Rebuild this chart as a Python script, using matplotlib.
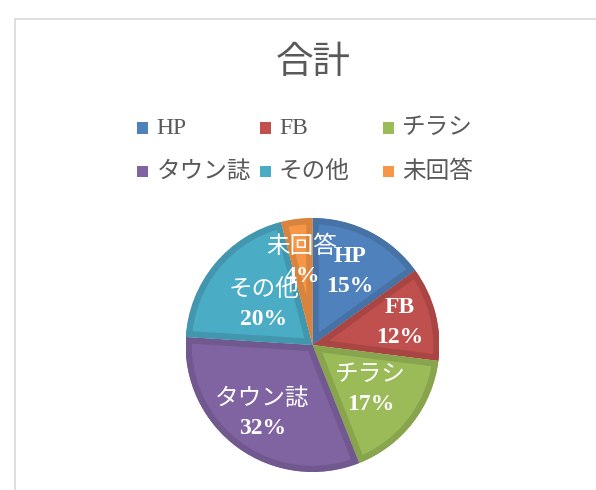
import numpy as np
import matplotlib
matplotlib.use("Agg")
import matplotlib.pyplot as plt
from matplotlib.patches import Rectangle, Wedge
from matplotlib.colors import to_rgb

# data
labels = ["HP", "FB", "チラシ", "タウン誌", "その他", "未回答"]
shares = [15, 12, 17, 32, 20, 4]
colors = ["#4F81BD", "#C0504D", "#9BBB59", "#8064A2", "#4BACC6", "#F79646"]
title = "合計"

# radial position of each data label (fraction of radius)
label_dist = [0.65, 0.71, 0.58, 0.67, 0.50, 0.66]

W, H = 596, 490
fig = plt.figure(figsize=(W / 100, H / 100), dpi=100)
fig.set_facecolor("white")

serif = ["Liberation Serif", "Noto Sans CJK JP"]
sans = ["Noto Sans CJK JP", "DejaVu Sans"]
grey = "#595959"

# chart area border (runs off the right and bottom edges)
fig.patches.append(Rectangle((15 / W, -0.05), 1.1, 1 - 19 / H + 0.05,
                             transform=fig.transFigure, fill=False,
                             edgecolor="#d9d9d9", linewidth=1.2))

fig.text(313 / W, 1 - 62 / H, title, ha="center", va="center",
         fontsize=27, color=grey, family=sans)

# legend drawn on a 3 x 2 grid like Excel does
col_x = [142.5, 265, 388]
row_y = [128, 172]
for i, (lab, c) in enumerate(zip(labels, colors)):
    x = col_x[i % 3]
    y = row_y[i // 3]
    s = 11
    fig.patches.append(Rectangle(((x - s / 2) / W, 1 - (y + s / 2) / H), s / W, s / H,
                                 transform=fig.transFigure, facecolor=c,
                                 edgecolor="none"))
    fig.text((x + 14) / W, 1 - y / H, lab, ha="left", va="center",
             fontsize=17, color=grey, family=serif)

# pie
cx, cy, r = 312.5, 345, 127
ax = fig.add_axes([(cx - r) / W, (H - cy - r) / H, 2 * r / W, 2 * r / H])
wedges, _ = ax.pie(shares, colors=colors, startangle=90, counterclock=False,
                   radius=1, wedgeprops=dict(linewidth=0))

# inner bevel band: thick darker stroke clipped to a copy of the wedge
for w, c in zip(wedges, colors):
    rgb = np.array(to_rgb(c))
    w.set_edgecolor(tuple(rgb * 0.88))
    w.set_linewidth(9)
    clip = Wedge(w.center, w.r, w.theta1, w.theta2, transform=ax.transData)
    w.set_clip_on(True)
    w.set_clip_path(clip)

step = 0.115
for w, lab, s, d in zip(wedges, labels, shares, label_dist):
    ang = np.deg2rad((w.theta1 + w.theta2) / 2)
    x, y = d * np.cos(ang), d * np.sin(ang)
    ax.text(x, y + step, lab, ha="center", va="center", fontsize=17,
            color="white", family=serif,
            fontweight="bold" if lab.isascii() else "normal")
    ax.text(x, y - step, f"{s}%", ha="center", va="center", fontsize=17,
            color="white", family=serif, fontweight="bold")

ax.set_xlim(-1, 1)
ax.set_ylim(-1, 1)
ax.set_aspect("equal")
ax.axis("off")

fig.savefig("out.png", dpi=100, facecolor="white")
